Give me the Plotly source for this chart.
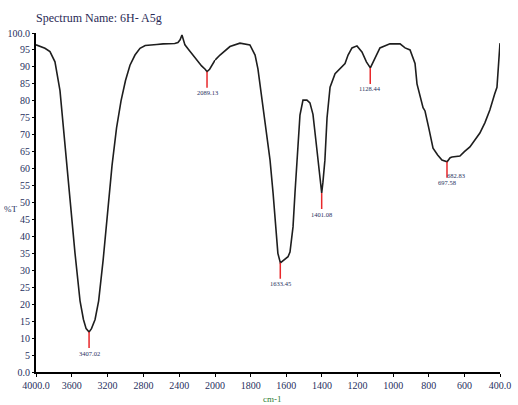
import plotly.graph_objects as go

# ---- data ----
wn_high = [4000, 3950, 3900, 3844, 3788, 3732, 3676, 3620, 3564, 3508, 3470, 3440, 3407,
           3380, 3340, 3300, 3250, 3200, 3150, 3100, 3050, 3000, 2950, 2894, 2838, 2780,
           2727, 2650, 2580, 2500, 2450, 2414, 2390, 2369, 2350, 2336, 2300, 2250, 2200,
           2150, 2110, 2089, 2060, 2034, 2000]
t_high = [96.5, 96.0, 95.5, 94.5, 91.5, 83, 68, 51, 35, 21, 15.5, 12.8, 11.8,
          12.8, 15.5, 21, 33, 47, 61, 72, 80, 86, 90.5, 93.5, 95.5, 96.3,
          96.5, 96.6, 96.8, 96.8, 96.9, 97.2, 98, 99.4, 97.5, 96.5, 95.3, 93.6, 92,
          90.3, 89.3, 88.6, 89.3, 90.5, 92]

wn_low = [2000, 1972, 1916, 1860, 1804, 1775, 1759, 1736, 1714, 1691, 1674, 1658, 1647,
          1633, 1613, 1590, 1579, 1562, 1551, 1540, 1523, 1506, 1484, 1467, 1450, 1433,
          1422, 1401, 1394, 1383, 1371, 1354, 1326, 1298, 1270, 1253, 1231, 1203, 1175,
          1150, 1128, 1107, 1074, 1018, 961, 933, 905, 877, 866, 832, 821, 800, 776, 750,
          726, 697, 680, 669, 650, 625, 600, 569, 540, 513, 485, 457, 430, 417, 400]
t_low = [92, 93.5, 96, 97, 96.5, 93.5, 89.4, 80.5, 71.4, 62.5, 52.8, 42.8, 35,
         32.2, 33, 34, 35.4, 42.8, 52.8, 62.5, 75.8, 80.2, 80.2, 79.4, 76, 68,
         62.5, 52.8, 56, 62.5, 75, 84, 88, 89.5, 91, 93.5, 95.6, 96.2, 94.4,
         91.5, 89.7, 92, 95.6, 96.8, 96.8, 95.6, 95, 91, 85, 78, 77, 72, 66, 64,
         62.5, 62, 63.2, 63.4, 63.6, 63.7, 65, 66.4, 68.5, 70.5, 73.5, 77.3, 82, 84, 97]

peak_wn = [3407.02, 2089.13, 1633.45, 1401.08, 1128.44, 697.58]
peak_t = [11.8, 88.6, 32.2, 52.8, 89.7, 62.0]
peak_labels = ["3407.02", "2089.13", "1633.45", "1401.08", "1128.44", "697.58"]
extra_wn = [682.83]
extra_t = [62.0]
extra_labels = ["682.83"]

xticks_high = [4000, 3600, 3200, 2800, 2400]
xtext_high = ["4000.0", "3600", "3200", "2800", "2400"]
xticks_low = [2000, 1800, 1600, 1400, 1200, 1000, 800, 600, 400]
xtext_low = ["2000", "1800", "1600", "1400", "1200", "1000", "800", "600", "400.0"]
yticks = list(range(0, 101, 5))
ytext = ["0.0"] + [str(v) for v in range(5, 100, 5)] + ["100.0"]

title_text = "Spectrum Name: 6H- A5g"

# ---- figure ----
split = 179 / 464
line_style = dict(color="#1e1e1e", width=1.6)
tick_font = dict(family="Liberation Serif", size=10, color="#27305e")

fig = go.Figure()
fig.add_trace(go.Scatter(x=wn_high, y=t_high, mode="lines", line=line_style,
                         xaxis="x", yaxis="y", showlegend=False, hoverinfo="skip"))
fig.add_trace(go.Scatter(x=wn_low, y=t_low, mode="lines", line=line_style,
                         xaxis="x2", yaxis="y", showlegend=False, hoverinfo="skip"))

annotations = []
for w, t, lab in zip(peak_wn, peak_t, peak_labels):
    annotations.append(dict(
        x=w, y=t, xref="x" if w >= 2000 else "x2", yref="y",
        text=lab, showarrow=True, arrowhead=0, arrowwidth=1.5, arrowcolor="#e8282b",
        ax=0, ay=21, standoff=0,
        font=dict(family="Liberation Serif", size=6.5, color="#27305e")))
for w, t, lab in zip(extra_wn, extra_t, extra_labels):
    annotations.append(dict(
        x=w, y=t, xref="x2", yref="y", text=lab, showarrow=False,
        xshift=6, yshift=-14,
        font=dict(family="Liberation Serif", size=6.5, color="#27305e")))

annotations.append(dict(x=-0.055, y=0.48, xref="paper", yref="paper", text="%T",
                        showarrow=False, xanchor="center", yanchor="middle",
                        font=dict(family="Liberation Serif", size=9, color="#27305e")))
annotations.append(dict(x=0.51, y=-0.058, xref="paper", yref="paper", text="cm-1",
                        showarrow=False, xanchor="center", yanchor="top",
                        font=dict(family="Liberation Serif", size=9, color="#2e7d32")))

axis_common = dict(showline=True, linecolor="black", linewidth=2, showgrid=False,
                   zeroline=False, ticks="outside", ticklen=3, tickcolor="black",
                   tickfont=tick_font, anchor="y", automargin=False)

fig.update_layout(
    width=518, height=405,
    margin=dict(l=36, r=18, t=33, b=33),
    paper_bgcolor="white", plot_bgcolor="white",
    title=dict(text=title_text, xref="paper", x=0, xanchor="left",
               yref="container", y=1 - 18 / 405, yanchor="middle",
               font=dict(family="Liberation Serif", size=12, color="#2a2a55")),
    xaxis=dict(domain=[0, split], range=[4000, 2000], tickmode="array",
               tickvals=xticks_high, ticktext=xtext_high, **axis_common),
    xaxis2=dict(domain=[split, 1], range=[2000, 400], tickmode="array",
                tickvals=xticks_low, ticktext=xtext_low, **axis_common),
    yaxis=dict(range=[0, 100], tickmode="array", tickvals=yticks, ticktext=ytext,
               showline=True, linecolor="black", linewidth=2, showgrid=False,
               zeroline=False, ticks="outside", ticklen=2, tickcolor="black",
               tickfont=tick_font, automargin=False),
    annotations=annotations,
)

fig.write_html("out.html", config={"displayModeBar": False},
               post_script="document.body.style.margin='0';")
